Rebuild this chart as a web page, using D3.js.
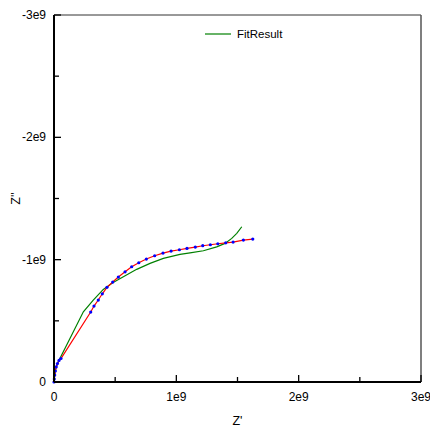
<!DOCTYPE html>
<html>
<head>
<meta charset="utf-8">
<script src="https://cdn.jsdelivr.net/npm/d3@7"></script>
<style>
  html, body { margin: 0; padding: 0; background: #fff; }
  svg { display: block; font-family: "Liberation Sans", Arial, sans-serif; }
</style>
</head>
<body>
<svg id="chart" width="430" height="429"></svg>
<script>
// Measured impedance: real part Z' (ohm)
const measuredRe = [0, 0.0025e9, 0.006e9, 0.011e9, 0.018e9, 0.028e9, 0.041e9, 0.057e9,
  0.300e9, 0.327e9, 0.362e9, 0.395e9, 0.433e9, 0.480e9, 0.526e9, 0.581e9, 0.635e9,
  0.693e9, 0.755e9, 0.823e9, 0.891e9, 0.957e9, 1.025e9, 1.087e9, 1.155e9, 1.216e9,
  1.278e9, 1.339e9, 1.404e9, 1.464e9, 1.548e9, 1.625e9];
// Measured impedance: imaginary part Z'' (ohm)
const measuredIm = [0, -0.0245e9, -0.057e9, -0.090e9, -0.123e9, -0.151e9, -0.176e9, -0.192e9,
  -0.572e9, -0.621e9, -0.670e9, -0.721e9, -0.774e9, -0.817e9, -0.858e9, -0.901e9, -0.942e9,
  -0.975e9, -1.005e9, -1.032e9, -1.054e9, -1.070e9, -1.081e9, -1.092e9, -1.103e9, -1.114e9,
  -1.122e9, -1.130e9, -1.138e9, -1.144e9, -1.160e9, -1.168e9];

// Equivalent-circuit fit
const fitRe = [0, 0.006e9, 0.016e9, 0.035e9, 0.240e9, 0.321e9, 0.403e9, 0.480e9, 0.567e9,
  0.676e9, 0.785e9, 0.894e9, 1.030e9, 1.112e9, 1.221e9, 1.330e9, 1.398e9, 1.453e9,
  1.494e9, 1.535e9];
const fitIm = [0, -0.057e9, -0.114e9, -0.166e9, -0.574e9, -0.670e9, -0.757e9, -0.811e9, -0.860e9,
  -0.921e9, -0.970e9, -1.011e9, -1.043e9, -1.056e9, -1.073e9, -1.105e9, -1.133e9, -1.174e9,
  -1.215e9, -1.269e9];

const xTicks = [0, 1e9, 2e9, 3e9];
const xTickLabels = ["0", "1e9", "2e9", "3e9"];
const yTicks = [0, -1e9, -2e9, -3e9];
const yTickLabels = ["0", "-1e9", "-2e9", "-3e9"];
const legendLabel = "FitResult";

const svg = d3.select("#chart");
const plotL = 54, plotR = 421, plotT = 15, plotB = 382;

const x = d3.scaleLinear().domain([0, 3e9]).range([plotL, plotR]);
const y = d3.scaleLinear().domain([0, -3e9]).range([plotB, plotT]);

const measured = measuredRe.map((v, i) => ({ re: v, im: measuredIm[i] }));
const fit = fitRe.map((v, i) => ({ re: v, im: fitIm[i] }));

// Frame: top and right edges
svg.append("line").attr("x1", plotL).attr("x2", plotR).attr("y1", plotT).attr("y2", plotT)
  .attr("stroke", "#333").attr("stroke-width", 1);
svg.append("line").attr("x1", plotR).attr("x2", plotR).attr("y1", plotT).attr("y2", plotB)
  .attr("stroke", "#555").attr("stroke-width", 1.5);

// Minor ticks halfway between majors
const xMinor = d3.range(0.5e9, 3e9, 1e9);
const yMinor = d3.range(-0.5e9, -3e9, -1e9);

const g = svg.append("g");
g.selectAll(".xmaj").data(xTicks).join("line")
  .attr("x1", d => x(d)).attr("x2", d => x(d)).attr("y1", plotB).attr("y2", plotB - 7)
  .attr("stroke", "#000").attr("stroke-width", 1.3);
g.selectAll(".xmin").data(xMinor).join("line")
  .attr("x1", d => x(d)).attr("x2", d => x(d)).attr("y1", plotB).attr("y2", plotB - 5)
  .attr("stroke", "#000").attr("stroke-width", 1.3);
g.selectAll(".ymaj").data(yTicks).join("line")
  .attr("x1", plotL).attr("x2", plotL + 7).attr("y1", d => y(d)).attr("y2", d => y(d))
  .attr("stroke", "#000").attr("stroke-width", 1.3);
g.selectAll(".ymin").data(yMinor).join("line")
  .attr("x1", plotL).attr("x2", plotL + 5).attr("y1", d => y(d)).attr("y2", d => y(d))
  .attr("stroke", "#000").attr("stroke-width", 1.3);

// Tick labels
svg.selectAll(".xl").data(xTicks).join("text")
  .attr("x", d => x(d)).attr("y", plotB + 19).attr("text-anchor", "middle")
  .attr("font-size", 12).attr("fill", "#000")
  .text((d, i) => xTickLabels[i]);
svg.selectAll(".yl").data(yTicks).join("text")
  .attr("x", plotL - 8).attr("y", d => y(d) + 4).attr("text-anchor", "end")
  .attr("font-size", 12).attr("fill", "#000")
  .text((d, i) => yTickLabels[i]);

// Axis titles
svg.append("text").attr("x", (plotL + plotR) / 2).attr("y", plotB + 43)
  .attr("text-anchor", "middle").attr("font-size", 12.5).text("Z'");
svg.append("text").attr("transform", `translate(20,${(plotT + plotB) / 2}) rotate(-90)`)
  .attr("text-anchor", "middle").attr("font-size", 12.5).text("Z''");

// Curves
const line = d3.line().x(d => x(d.re)).y(d => y(d.im));
const plot = svg.append("g");
plot.append("path").datum(fit).attr("d", line)
  .attr("fill", "none").attr("stroke", "#008000").attr("stroke-width", 1.2);
plot.append("path").datum(measured).attr("d", line)
  .attr("fill", "none").attr("stroke", "#ff0000").attr("stroke-width", 1.2);
plot.selectAll("circle").data(measured).join("circle")
  .attr("cx", d => x(d.re)).attr("cy", d => y(d.im)).attr("r", 1.6)
  .attr("fill", "#0000ff");

// Main axis lines
svg.append("line").attr("x1", plotL).attr("x2", plotL).attr("y1", plotT).attr("y2", plotB)
  .attr("stroke", "#000").attr("stroke-width", 2);
svg.append("line").attr("x1", plotL).attr("x2", plotR).attr("y1", plotB).attr("y2", plotB)
  .attr("stroke", "#000").attr("stroke-width", 2);

// Legend
svg.append("line").attr("x1", 205).attr("x2", 231).attr("y1", 34).attr("y2", 34)
  .attr("stroke", "#008000").attr("stroke-width", 1.2);
svg.append("text").attr("x", 237).attr("y", 38).attr("font-size", 11.5)
  .attr("fill", "#000").text(legendLabel);
</script>
</body>
</html>
